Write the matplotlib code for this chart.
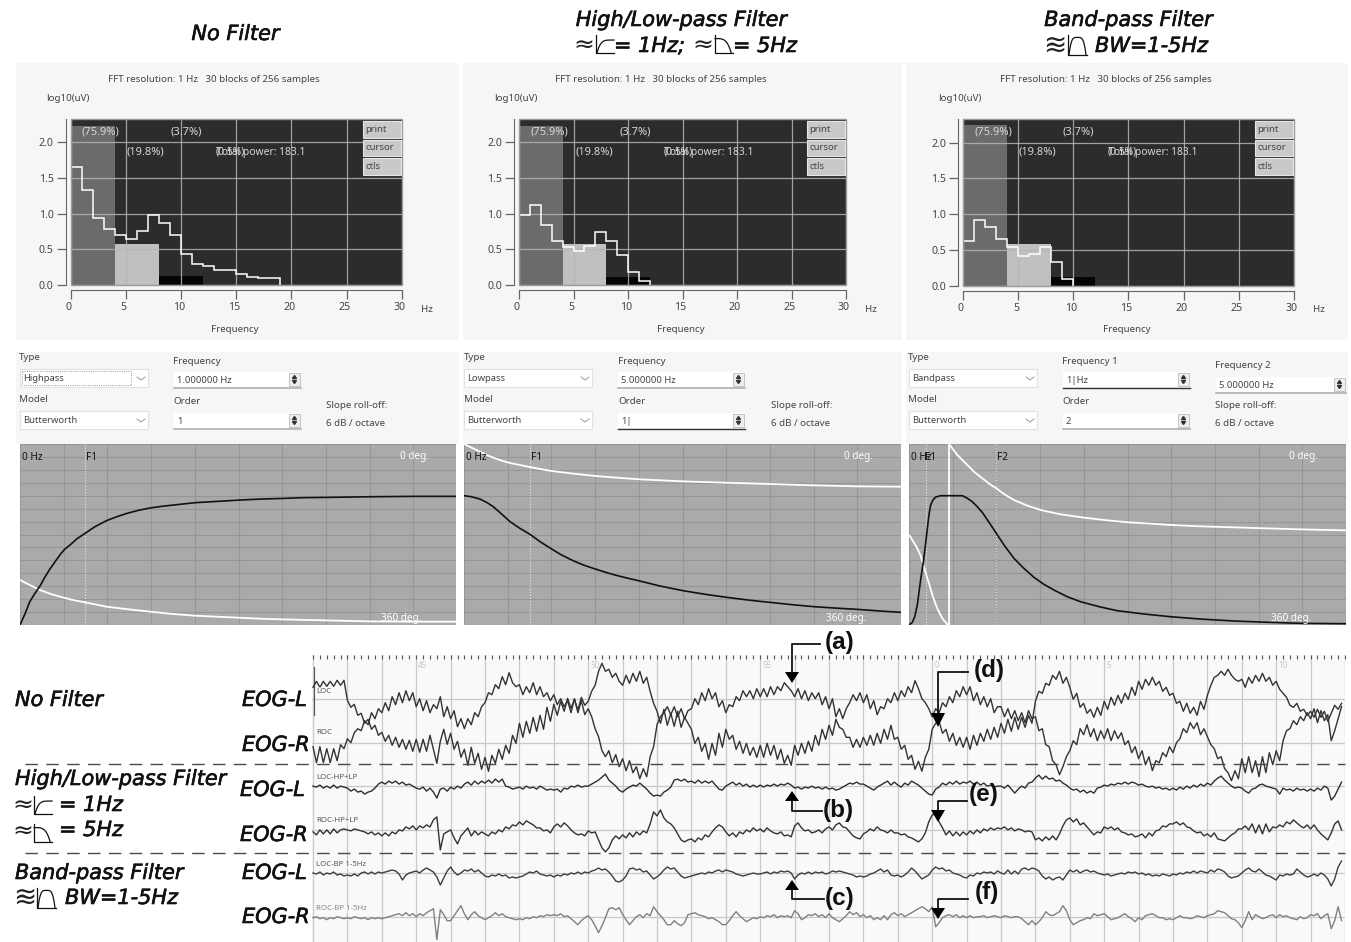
import numpy as np
import matplotlib
matplotlib.use("Agg")
import matplotlib.pyplot as plt
import matplotlib.patheffects as pe
from matplotlib.patches import Rectangle, Polygon
from matplotlib.ticker import MultipleLocator
from matplotlib.transforms import ScaledTranslation

W, H = 1351, 942
UI = "Noto Sans"
UIS = 7.0

# ---- spectra (log10 uV per 1 Hz bin) ----
spec_no = [1.65, 1.33, .94, .79, .70, .65, .76, .98, .87, .70, .43, .30, .27, .21, .21, .16, .11, .10, .10]
spec_hl = [.98, 1.12, .84, .62, .53, .48, .54, .74, .62, .42, .18, .06]
spec_bp = [.63, .92, .82, .66, .54, .41, .45, .54, .33, .10]
band_no = [2.22, .58, .12]
band_hl = [2.22, .57, .11]
band_bp = [2.25, .59, .12]
band_edges = [0, 4, 8, 12]
band_colors = ["#6b6b6b", "#c0c0c0", "#050505"]
y_ticks = [0.0, 0.5, 1.0, 1.5, 2.0]
x_ticks = [0, 5, 10, 15, 20, 25, 30]

# ---- filter responses ----
hp_f = [0, .08, .15, .23, .31, .38, .46, .54, .62, .69, .77, .87, 1.0, 1.15, 1.33, 1.49, 1.64, 1.82, 2.0, 2.18, 2.36, 2.69, 3.03, 3.36, 3.69, 4.03, 4.36, 4.7, 5.37, 6.05, 6.7]
hp_gain = [0, .09, .18, .245, .304, .368, .433, .49, .546, .588, .619, .665, .709, .76, .807, .838, .863, .887, .905, .918, .928, .946, .956, .966, .974, .979, .985, .987, .992, .995, .995]
hp_pf = [0, .15, .31, .46, .62, .79, 1.0, 1.18, 1.33, 1.67, 2.01, 2.36, 2.69, 3.03, 3.36, 3.69, 4.03, 4.7, 5.37, 6.05, 6.7]
hp_phase = [270.5, 280.5, 290.5, 297.8, 303.8, 309.7, 315, 319.6, 323.6, 328.9, 333.6, 338.2, 341.5, 343.5, 345.5, 347.5, 348.8, 350.8, 352.8, 353.4, 353.4]

lp_f = [0, .58, 1.22, 1.73, 2.23, 2.87, 3.5, 4.26, 5.0, 5.8, 6.67, 7.44, 8.32, 9.09, 10, 10.86, 11.6, 12.5, 13.4, 14.9, 16.7, 18.4, 20, 21.65, 23.3, 25, 26.6, 28.25, 29.95, 31.7, 33.25]
lp_gain = [1, .992, .974, .948, .915, .858, .80, .747, .703, .644, .588, .541, .497, .464, .433, .405, .384, .361, .34, .302, .265, .237, .214, .193, .175, .157, .142, .131, .121, .108, .098]
lp_pf = [0, .58, 1.22, 1.73, 2.23, 2.87, 3.5, 4.26, 5, 5.8, 6.67, 8.32, 10, 11.6, 13.4, 16.7, 20, 23.3, 26.6, 29.95, 33.25]
lp_phase = [0, 7.3, 15.3, 21.9, 27.2, 33.2, 37.8, 41.8, 45.7, 49.7, 53.7, 59, 63.6, 66.9, 70.3, 74.3, 77, 79.6, 82.2, 84.2, 84.9]

bp_f = [.04, .19, .33, .48, .67, .83, .96, 1.06, 1.15, 1.25, 1.38, 1.54, 1.83, 3.08, 3.37, 3.65, 3.94, 4.23, 4.62, 5.04, 5.48, 6.06, 6.63, 7.21, 7.79, 8.37, 9.13, 9.9, 10.96, 12, 13.56, 15.1, 16.83, 18.75, 20.67, 22.6, 25.2]
bp_gain = [.005, .02, .064, .155, .348, .49, .631, .747, .851, .928, .966, .99, 1, 1, .98, .954, .915, .871, .794, .709, .619, .515, .438, .369, .314, .27, .219, .18, .142, .111, .085, .064, .046, .031, .021, .013, .01]
bp_pf = [.04, .25, .48, .67, .83, 1.0, 1.15, 1.38, 1.63, 1.92, 2.21, 2.31, 2.31, 2.79, 3.37, 3.79, 4.23, 4.62, 5.04, 5.48, 6.06, 6.83, 7.6, 8.75, 10.1, 11.44, 12.66, 13.94, 15.13, 16.83, 18.75, 20.67, 22.6, 25.2]
bp_phase = [182.4, 194.3, 207.6, 222.1, 240.7, 260.6, 277.2, 303.7, 326.9, 346.8, 358.8, 360, 0, 21.9, 41.8, 56.4, 68.3, 78.9, 88.2, 99.5, 111.4, 122.7, 131.3, 139.9, 146.5, 151.8, 155.8, 158.4, 161.1, 163.8, 165.8, 167.8, 169.8, 171.8]

# ---- EOG traces: ten readings per second from t = 42 s to 72 s, amplitude (uV-like units) ----
t_start = 42
loc_raw = [
 12,18,12,18,13,18,13,19,14,19, -1,-8,-5,-16,-14,-24,-20,-30,-26,-36,
 -33,-42,-36,-46,-38,-48,-40,-50,-41,-52, -40,-53,-40,-52,-36,-50,-64,-42,-30,-45,
 -34,-50,-42,-58,-50,-66,-48,-64,-54,-70, -58,-72,-56,-64,-50,-60,-46,-54,-36,-44,
 -24,-38,-22,-34,-18,-32,-16,-30,-8,-22, -5,-16,-2,-12,1,-9,0,-11,2,-6,
 -2,8,14,28,36,28,30,22,26,18, 14,24,16,26,18,28,16,22,8,-4,
 -12,-24,-10,-26,-14,-27,-12,-28,-18,-24, -30,-44,-38,-52,-44,-60,-44,-56,-34,-48,
 -30,-40,-36,-50,-42,-54,-44,-56,-48,-58, -46,-58,-44,-56,-46,-60,-50,-64,-56,-66,
 -46,-56,-44,-54,-42,-52,-36,-46,-30,-40, -26,-36,-20,-28,-30,-38,-38,-48,-40,-48,
 -38,-46,-36,-46,-34,-44,-30,-40,-26,-40, -38,-50,-46,-60,-56,-70,-62,-72,-58,-50,
 -30,-24,-22,-34,-30,-42,-34,-46,-38,-48, -38,-50,-36,-46,-34,-42,-30,-40,-28,-38,
 -24,-34,-20,-32,-18,-30,-18,-28,-16,-24, -2,8,6,16,14,24,20,28,16,22,
 12,0,6,-8,-4,-14,-10,-18,-8,-16, -2,-10,2,-6,4,-4,6,0,12,4,
 18,10,20,14,22,14,18,8,12,4, 6,-4,-2,-12,-4,-14,-8,-16,-2,-10,
 4,14,22,24,28,24,30,24,20,18, 20,12,22,16,24,18,26,18,22,14,
 18,10,6,2,-6,-8,-4,-12,-10,-16, -12,-18,-10,-18,-12,-22,-14,-6,-10,-4]
roc_raw = [
 -4,-20,-4,-20,-6,-20,-6,-18,-2,-6, 4,0,10,14,12,22,18,30,24,34,
 30,40,32,46,38,50,40,52,42,50, 36,44,32,42,30,38,34,46,26,36,
 24,32,16,24,14,24,18,30,26,36, 40,50,48,58,54,66,58,70,60,56,
 58,48,56,50,60,48,56,46,50,42, 48,38,44,36,42,30,44,30,42,28,
 34,26,14,6,-8,-14,-8,-20,-12,-24, -16,-28,-18,-30,-24,-36,-26,-34,-14,-4,
 18,26,30,36,28,36,26,34,24,32, 34,44,38,50,42,54,44,50,36,42,
 30,38,36,46,42,52,46,52,44,54, 46,54,46,56,48,56,52,60,56,52,
 46,54,44,52,42,50,44,50,38,46, 34,44,26,34,24,34,40,48,42,50,
 40,48,34,42,28,36,34,44,40,50, 42,52,46,56,50,62,54,44,40,34,
 26,34,30,40,36,46,40,52,46,56, 48,56,42,50,38,46,36,44,30,36,
 36,26,34,24,32,22,30,20,32,24, 26,12,14,-2,-4,-18,-22,-32,-24,-14,
 -8,2,-2,14,8,18,6,14,2,12, 4,14,2,12,4,10,-2,2,-10,-4,
 -16,-8,-22,-14,-28,-18,-20,-10,-14,-4, -10,0,4,14,10,20,14,20,8,14,
 6,-2,-6,-16,-14,-26,-30,-38,-28,-36, -16,-30,-14,-30,-18,-34,-14,-30,-10,-22,
 -8,-18,2,12,14,22,18,26,22,30, 24,34,20,32,22,28,2,12,24,36]
loc_hl = [
 0,-1,1,-2,0,-2,1,-2,0,-1, -2,-5,-3,-6,-5,-8,-6,-5,-2,2,
 4,2,5,3,5,2,4,1,2,0, -2,-3,-1,-5,-2,-6,-12,-3,-2,-5,
 -1,-3,0,-2,2,4,1,5,2,5, 3,6,3,7,4,7,0,-1,-3,-2,
 -1,-3,0,-2,-1,-3,0,-2,-4,-3, -4,-3,-6,-2,-3,0,-1,1,-1,0,
 0,2,4,6,9,12,6,3,0,-4, -6,-3,-1,1,0,3,0,-3,-7,-10,
 -9,-10,-6,-4,-1,6,7,5,7,4, 5,3,6,3,5,3,5,1,-3,-4,
 0,2,4,1,3,0,2,-1,1,-1, 1,-1,1,0,2,0,2,1,3,1,
 -2,-1,-3,-1,-2,0,-2,-1,-3,-1, -3,-2,-4,-3,-1,1,3,2,4,2,
 2,0,-2,-4,-1,1,3,5,1,4, 1,-1,3,1,5,3,1,-2,-5,-8,
 -9,-3,-1,3,1,4,2,5,2,4, 3,5,2,4,1,3,0,1,-1,0,
 0,-2,1,-3,-7,-3,0,-2,3,4, 8,11,7,10,7,8,5,6,3,1,
 -2,-4,-3,-6,-4,-7,-5,-7,-2,-1, 1,0,2,1,3,2,4,2,4,3,
 1,2,0,-1,0,-2,-1,-3,-2,-4, -2,-4,-1,-3,0,-2,1,-1,2,0,
 3,1,5,8,10,6,3,0,-2,-1, -2,-5,-7,-3,-2,1,2,0,-1,-2,
 -3,-8,-2,-4,-3,-5,-2,-4,-3,-5, -3,-5,-2,-4,0,-2,-14,-10,-3,4]
roc_hl = [
 -2,-5,0,-4,0,-4,1,-3,0,1, 0,-1,1,0,-1,-2,-4,-2,-5,-3,
 -6,-3,-6,-2,-4,0,-1,3,1,4, 0,4,2,5,3,10,13,-20,-4,-2,
 0,-8,-14,-6,-2,2,-6,-1,-5,-2, -4,-6,-2,-4,0,-2,3,1,5,4,
 8,5,9,7,5,2,2,-1,0,-3, 3,6,3,7,4,0,-3,-5,-4,-6,
 -1,-3,-2,-10,-18,-22,-18,-10,-6,-9, -5,-8,-3,-7,-2,-5,-1,-3,6,18,
 14,20,12,8,6,2,-4,-10,-12,-10, -9,-12,-8,-10,-5,-7,-2,2,5,3,
 -2,-6,-3,-7,-2,-4,0,-2,2,-1, 1,-2,2,-1,-3,-4,-2,-6,-5,-7,
 4,7,2,-1,0,-3,-2,0,-3,1, 3,0,5,7,3,2,-2,-6,-8,-9,
 -4,-2,1,-1,3,0,-1,-3,0,-3, -3,-5,-4,-7,-8,-10,-12,-9,-3,8,
 15,16,8,2,-5,-1,-6,-2,-6,-2, -5,-1,-4,0,-3,1,-1,2,0,2,
 1,3,0,2,-1,1,0,-2,-1,-2, -10,-8,-11,-7,-10,-6,-10,-4,4,10,
 12,8,11,5,7,3,-1,-5,-2,-3, 3,1,3,0,2,-2,-3,-5,-4,-7,
 -6,-4,-8,-3,-6,-1,0,4,3,6, 6,8,5,7,3,2,-1,-3,-2,-6,
 -4,-7,-3,-9,-10,-11,-8,-5,-3,1, 1,4,0,6,-3,5,-4,6,-2,3,
 2,5,3,8,6,10,7,4,2,5, 1,5,0,-4,-7,-10,-3,6,9,0]
loc_bp = [
 0,-1,1,-2,0,-1,1,-2,-1,-3, -2,-3,-1,-3,0,1,-1,1,-1,1,
 0,1,2,3,2,-1,-7,-2,0,1, 2,0,3,5,3,1,-4,-12,-5,2,
 6,1,-2,0,3,2,4,1,3,0, -3,-4,-2,-3,-1,-3,-2,-5,-4,-5,
 -4,-3,-1,1,0,2,-1,-2,-3,-2, -4,-2,-3,-1,-2,0,-1,1,-1,1,
 0,2,3,5,3,4,1,-3,-8,-9, -7,-3,4,5,3,4,1,2,-2,-6,
 -4,-1,3,6,4,5,1,-3,-5,-4, -3,-2,-1,0,-1,1,0,2,3,1,
 3,2,1,-1,-2,-3,-2,-1,0,-1, -1,0,1,-1,1,0,2,1,2,0,
 -6,-2,0,-1,1,-1,1,0,1,-1, 0,2,1,2,1,0,-1,-2,-4,-3,
 -4,-3,-1,0,2,4,1,3,-2,-3, -2,-4,-2,1,5,2,-2,-6,-4,-2,
 3,6,4,5,2,3,0,-1,-2,-4, -5,-2,-3,0,-1,1,0,1,-1,2,
 0,-1,3,-1,2,-1,4,5,3,5, 4,2,-3,-6,-4,-7,-5,-4,-7,-2,
 3,1,3,0,2,3,1,2,0,-1, -2,-1,-3,-2,-1,0,-1,1,0,1,
 -1,0,-2,-1,-3,-2,-3,-1,-2,-3, -1,-2,0,-1,1,0,2,0,2,1,
 0,3,1,4,3,1,-3,-5,-4,-3, 0,3,5,2,1,4,1,-2,-3,-5,
 -7,-2,-3,-1,-2,-1,4,1,-2,-4, -3,-1,-3,0,-2,-6,-13,-6,6,12]
roc_bp = [
 -1,0,-2,-1,-3,-1,-2,0,-1,-2, -1,-2,0,-1,-2,-1,-3,-1,-2,-1,
 -2,-1,0,1,2,3,1,4,1,3, 0,3,1,4,6,8,-23,7,2,-4,
 -4,1,6,11,3,-3,2,5,1,-1, -3,-1,1,4,1,3,0,-1,-2,-3,
 -2,-3,-1,-2,0,-1,1,0,2,1, 2,1,3,0,1,-2,-5,-8,-4,-1,
 1,-3,-9,-16,-9,-1,8,9,7,9, 2,-3,-8,-4,0,2,-1,3,1,10,
 5,1,-3,-8,-8,-4,-7,-9,-6,2, 3,4,2,1,0,-2,-1,-3,-5,-8,
 -8,-4,1,5,1,-2,-5,-3,-1,-2, 0,-1,1,0,2,-1,1,0,1,-1,
 6,3,-3,-1,2,1,3,0,2,-1, 3,-1,-3,-5,-2,1,5,2,4,0,
 2,-1,1,-3,-1,-3,1,-3,2,4, 1,3,0,2,4,6,8,10,8,5,
 10,-10,-6,-1,1,2,0,2,-1,1, -1,1,-1,0,0,1,-1,0,1,0,
 -1,1,0,-1,0,0,-2,-5,-8,-4, -8,-5,-1,5,2,1,3,5,11,6,
 -3,-8,-6,-4,-3,-1,-2,3,1,2, 3,0,-3,-2,-1,1,3,0,-2,-5,
 -1,-3,1,2,3,1,-1,-1,-3,-2, -3,-1,1,-1,-1,-2,-1,1,0,-1,
 1,2,3,6,5,4,1,-2,-3,-6, -11,-4,5,-3,2,0,-2,-1,1,2,
 -1,2,0,1,-1,-2,-3,0,-2,-1, 2,1,3,-2,1,3,-12,-4,10,-4]
eog_clock = {45: "45", 50: "50", 55: "55", 60: "0", 65: "5", 70: "10"}
eog_names = ["LOC", "ROC", "LOC-HP+LP", "ROC-HP+LP", "LOC-BP 1-5Hz", "ROC-BP 1-5Hz"]

fig = plt.figure(figsize=(W / 100, H / 100), dpi=100, facecolor="white")


def axpx(x0, y0, x1, y1, **kw):
    return fig.add_axes([x0 / W, 1 - y1 / H, (x1 - x0) / W, (y1 - y0) / H], **kw)


bg = axpx(0, 0, W, H, zorder=0)
fg = axpx(0, 0, W, H, zorder=10)
for a in (bg, fg):
    a.set_xlim(0, W)
    a.set_ylim(H, 0)
    a.axis("off")
    a.patch.set_alpha(0)

# panel backgrounds
for x0, x1 in [(16, 459), (462.5, 902), (906, 1348)]:
    bg.add_patch(Rectangle((x0, 63), x1 - x0, 277, fc="#f6f6f6", ec="none"))
    bg.add_patch(Rectangle((x0, 352), x1 - x0, 92, fc="#f6f6f6", ec="none"))


def ut(x, y, s, color="#444444", size=UIS, ha="left", **kw):
    fg.text(x, y, s, color=color, fontsize=size, ha=ha, va="center", family=UI, **kw)


# ---- spectrum panels ----
spec_panels = [
    (70.5, 402, 285.0, spec_no, band_no, 108, 46, 235, 421, 363),
    (519, 846, 285.0, spec_hl, band_hl, 554.7, 494.3, 681, 864.7, 807),
    (962.7, 1294, 285.7, spec_bp, band_bp, 1000, 937.7, 1126.7, 1312.7, 1255),
]
for x0, x1, y0, vals, band, fx, lx, cx, hzx, bx in spec_panels:
    ax = axpx(x0, 119, x1, y0, zorder=2)
    ax.set_facecolor("#2c2c2c")
    for s in ("top", "right"):
        ax.spines[s].set_visible(False)
    ax.spines["left"].set_position(("outward", 3.6))
    ax.spines["bottom"].set_position(("outward", 3.6))
    ax.spines["left"].set_color("#666666")
    ax.spines["bottom"].set_color("#666666")
    ax.set_xlim(0, 30)
    ax.set_ylim(0, (y0 - 119) / 71.5)
    for i, h in enumerate(band):
        ax.bar(band_edges[i], h, width=band_edges[i + 1] - band_edges[i], align="edge",
               color=band_colors[i], zorder=1)
    ax.set_xticks(x_ticks)
    ax.set_yticks(y_ticks)
    ax.set_xticklabels([str(v) for v in x_ticks], fontsize=7.6, color="#444444", family=UI)
    ax.set_yticklabels([f"{v:.1f}" for v in y_ticks], fontsize=7.6, color="#444444", family=UI)
    ax.tick_params(length=6.5, width=0.9, color="#666666", pad=2)
    shift = ScaledTranslation(-2 / 100, 0, fig.dpi_scale_trans)
    for lab in ax.get_xticklabels():
        lab.set_transform(lab.get_transform() + shift)
    ax.grid(True, color="#b5b5b5", lw=0.9, alpha=0.85, zorder=2)
    ax.set_axisbelow(False)
    ax.stairs(vals, np.arange(len(vals) + 1), color="white", lw=1.1, baseline=0, zorder=3)
    ax.add_patch(Rectangle((0, 0), 1, 1, transform=ax.transAxes, fill=False, ec="#9a9a9a", lw=1, clip_on=False, zorder=4))

    ut(fx, 80, "FFT resolution: 1 Hz   30 blocks of 256 samples")
    ut(lx, 98.5, "log10(uV)")
    ut(cx, 330, "Frequency", ha="center")
    ut(hzx, 310, "Hz")
    for dx, y, s, sz in [(11.5, 132.5, "(75.9%)", 8), (56, 152, "(19.8%)", 8), (100, 132.5, "(3.7%)", 8),
                         (145, 152, "(0.5%)", 7.4), (145, 152, "Total power: 183.1", 7.4)]:
        ut(x0 + dx, y, s, color="#d6d6d6", size=sz)
    for (ya, yb), s in zip([(121, 138), (140, 156), (158, 175)], ["print", "cursor", "ctls"]):
        fg.add_patch(Rectangle((bx, ya), 38, yb - ya, fc="#c9c9c9", ec="#e6e6e6", lw=0.8))
        ut(bx + 2, (ya + yb) / 2, s, color="#444444", size=6.9)


# ---- filter control widgets ----
def combo(x0, y0, s, dotted=False):
    fg.add_patch(Rectangle((x0, y0), 128, 18, fc="white", ec="#e2e2e2", lw=0.8))
    ut(x0 + 3, y0 + 9.5, s, size=6.8)
    fg.plot([x0 + 117, x0 + 121, x0 + 125], [y0 + 8, y0 + 11, y0 + 8], color="#999999", lw=0.7)
    if dotted:
        fg.add_patch(Rectangle((x0 + 2, y0 + 2), 109, 14, fill=False, ec="#777777", lw=0.6, ls=":"))


def entry(x0, y0, s, w=127, active=False):
    fg.add_patch(Rectangle((x0, y0), w, 15, fc="white", ec="none"))
    fg.plot([x0, x0 + w], [y0 + 15.5] * 2, color="#333333" if active else "#b0b0b0", lw=1 if active else 1.2)
    ut(x0 + 3, y0 + 8.5, s, size=6.8)
    sx = x0 + w - 12
    fg.add_patch(Rectangle((sx, y0 + 1), 11, 13, fc="#eeeeee", ec="#bbbbbb", lw=0.6))
    fg.fill([sx + 3.5, sx + 7.5, sx + 5.5], [y0 + 6.5, y0 + 6.5, y0 + 3.5], color="#333333")
    fg.fill([sx + 3.5, sx + 7.5, sx + 5.5], [y0 + 8.5, y0 + 8.5, y0 + 11.5], color="#333333")


combo(20, 369, "Highpass", dotted=True)
combo(464, 369, "Lowpass")
combo(909, 369, "Bandpass")
for x in (20, 464, 909):
    combo(x, 411, "Butterworth")
for x, y, s in [(19, 357, "Type"), (19, 399, "Model"), (173, 361, "Frequency"), (173, 401, "Order"),
                (326, 406, "Slope roll-off:"), (326, 424, "6 dB / octave"),
                (464, 357, "Type"), (464, 399, "Model"), (618, 361, "Frequency"), (618, 401, "Order"),
                (771, 406, "Slope roll-off:"), (771, 424, "6 dB / octave"),
                (908, 357, "Type"), (908, 399, "Model"), (1062, 361, "Frequency 1"), (1062, 401, "Order"),
                (1215, 366, "Frequency 2"), (1215, 406, "Slope roll-off:"), (1215, 424, "6 dB / octave")]:
    ut(x, y, s)
entry(174, 372, "1.000000 Hz")
entry(174, 413, "1")
entry(618, 372, "5.000000 Hz")
entry(618, 413, "1|", active=True)
entry(1063, 372, "1|Hz", active=True)
entry(1063, 413, "2")
entry(1216, 377, "5.000000 Hz", w=130)

# ---- filter response panels ----
filt_panels = [
    (20, 456, 6.7, hp_f, hp_gain, hp_pf, hp_phase, [("F1", 1.0)], 400, 381),
    (464, 900.7, 33.25, lp_f, lp_gain, lp_pf, lp_phase, [("F1", 5.0)], 844, 826),
    (909, 1345.7, 25.2, bp_f, bp_gain, bp_pf, bp_phase, [("F1", 1.0), ("F2", 5.0)], 1289, 1271),
]
for x0, x1, fmax, f, g, pf, ph, marks, degx, d360x in filt_panels:
    ax = axpx(x0, 444, x1, 625, zorder=2)
    ax.set_facecolor("#aaaaaa")
    ax.set_xlim(0, fmax)
    ax.set_ylim(0, 1.40)
    ax.xaxis.set_major_locator(MultipleLocator(fmax * 43.7 / (x1 - x0)))
    ax.yaxis.set_major_locator(MultipleLocator(0.1))
    ax.grid(True, color="#969696", lw=0.75)
    ax.set_axisbelow(True)
    ax.tick_params(length=0, labelleft=False, labelbottom=False)
    for s in ax.spines.values():
        s.set_visible(False)
    for name, fr in marks:
        ax.axvline(fr, color="#e8e8e8", lw=0.8, ls=":", zorder=2)
        px = x0 + fr / fmax * (x1 - x0)
        fg.text(px + (1 if len(marks) == 1 else -1 if name == "F1" else 1), 457, name, color="#111111", fontsize=7.2, family=UI, va="center")
    ph_ax = ax.twinx()
    ph_ax.set_ylim(360, 0)
    ph_ax.axis("off")
    ph_ax.plot(pf, ph, color="white", lw=1.3)
    ph_ax.plot(f, np.array(g) * (-360 / 1.40) + 360, color="#111111", lw=1.2, zorder=4)
    fg.text(x0 + 2, 457, "0 Hz", color="#111111", fontsize=7.2, family=UI, va="center")
    fg.text(degx, 457, "0 deg.", color="white", fontsize=7.2, family=UI, va="center")
    fg.text(d360x, 618.5, "360 deg.", color="white", fontsize=7.2, family=UI, va="center")

# ---- EOG strip ----
eog = axpx(312, 655, 1345, 942, zorder=2)
eog.set_facecolor("#f9f9f9")
t_left, t_right = 41.97, 72.0
eog.set_xlim(t_left, t_right)
top_units, bot_units = 699.3 - 655, 699.3 - 942
eog.set_ylim(bot_units, top_units)
offsets = [0, -43.4, -86.8, -130.6, -173.7, -217.4]
eog.xaxis.set_major_locator(MultipleLocator(1))
eog.xaxis.set_minor_locator(MultipleLocator(0.2))
eog.set_yticks(offsets)
eog.grid(True, which="major", color="#c9c9c9", lw=0.9)
eog.set_axisbelow(True)
eog.tick_params(which="both", axis="x", top=True, bottom=False, labelbottom=False, direction="in", length=3.2, width=0.8, color="#555555")
eog.tick_params(axis="y", length=0, labelleft=False)
for s in eog.spines.values():
    s.set_visible(False)
traces = [loc_raw, roc_raw, loc_hl, roc_hl, loc_bp, roc_bp]
colors = ["#333333", "#333333", "#2e2e2e", "#333333", "#3e3e3e", "#808080"]
for tr, off, c in zip(traces, offsets, colors):
    t = t_start + np.arange(len(tr)) / 10
    eog.plot(t, np.array(tr) + off, color=c, lw=1.0, solid_joinstyle="round", zorder=3)
for sec, lab in eog_clock.items():
    eog.text(sec + 0.06, top_units - 11, lab, color="#c6c6c6", fontsize=5.8, family=UI, va="center")
eog.plot([42.02, 42.02], [-16, 32], color="#555555", lw=0.8)
for off, name, dy, c in zip(offsets, eog_names, [8, 10, 9, 9, 8, 8], ["#555555"] * 5 + ["#888888"]):
    eog.text(42.1, off + dy, name, fontsize=5.6, color=c, family=UI, va="center",
             bbox=dict(fc="#f9f9f9", ec="none", alpha=0.45, pad=0.2), zorder=4)

# dashed separators
fg.plot([25, 1345], [764, 764], color="#4a4a4a", lw=1.0, dashes=(9, 6))
fg.plot([25, 1345], [852.5, 852.5], color="#4a4a4a", lw=1.0, dashes=(9, 6))

# ---- headings ----
HEAVY = [pe.withStroke(linewidth=0.45, foreground="#111111")]


def it(x, y, s, size=15, ha="left"):
    fg.text(x, y, s, fontsize=size, style="italic", family="DejaVu Sans", ha=ha, va="center",
            color="#111111", path_effects=HEAVY)


def wavy(x, y, s, size):
    fg.text(x, y, s, fontsize=size, family="DejaVu Sans", va="center", color="#222222")


def hp_glyph(x, y, w=18, h=18, lw=0.9):
    u = np.linspace(0, 1, 30)
    fg.plot([x, x, x + w], [y, y + h, y + h], color="#111111", lw=lw)
    fg.plot(x + 1 + (w - 1) * u, y + h - (h * .72) * (1 - (1 - u) ** 5), color="#111111", lw=lw)


def lp_glyph(x, y, w=18, h=18, lw=0.9):
    u = np.linspace(0, 1, 30)
    fg.plot([x, x, x + w], [y, y + h, y + h], color="#111111", lw=lw)
    fg.plot(x + (w * .9) * u, y + h - (h * .8) * (1 - u ** 4), color="#111111", lw=lw)


def bp_glyph(x, y, w=19, h=20, lw=0.9):
    u = np.linspace(0, 1, 40)
    fg.plot([x, x, x + w], [y, y + h, y + h], color="#111111", lw=lw)
    fg.plot(x + 1 + (w - 2) * u, y + h - h * .88 * (1 - (2 * u - 1) ** 4), color="#111111", lw=lw)


it(235.5, 34, "No Filter", ha="center")
it(681.5, 20, "High/Low-pass Filter", ha="center")
wavy(573, 46, "≈", 18)
hp_glyph(596, 35)
it(614, 46, "= 1Hz;")
wavy(692, 46, "≈", 18)
lp_glyph(715, 35)
it(733, 46, "= 5Hz")
it(1128.5, 20, "Band-pass Filter", ha="center")
wavy(1043, 46, "≋", 20)
bp_glyph(1068, 35)
it(1095, 46, "BW=1-5Hz")

it(15, 700, "No Filter")
it(15, 779, "High/Low-pass Filter")
wavy(12, 806, "≈", 18)
hp_glyph(34, 796)
it(59, 805, "= 1Hz")
wavy(12, 832, "≈", 18)
lp_glyph(34, 824)
it(59, 830, "= 5Hz")
it(15, 873, "Band-pass Filter")
wavy(13, 898, "≋", 20)
bp_glyph(37, 888)
it(65, 898, "BW=1-5Hz")
for y, x, s in [(700, 242, "EOG-L"), (745, 242, "EOG-R"), (790, 240, "EOG-L"), (835, 240, "EOG-R"),
                (873, 242, "EOG-L"), (917, 242, "EOG-R")]:
    it(x, y, s)


# ---- pointers ----
def pointer(xv, y_h, x_h, tip, base, label, lx, ly):
    fg.plot([x_h, xv, xv], [y_h, y_h, base], color="#111111", lw=1.3)
    fg.add_patch(Polygon([(xv - 7, base), (xv + 7, base), (xv, tip)], fc="black", ec="none"))
    fg.text(lx, ly, label, fontsize=17.5, fontweight="bold", family="Liberation Sans", va="center", color="#111111")


pointer(792, 644, 820, 683, 672, "(a)", 825, 643)
pointer(792, 811, 822, 791, 801, "(b)", 823, 810)
pointer(792, 899, 824, 880, 890, "(c)", 825, 898)
pointer(938, 672, 968, 727, 713, "(d)", 974, 671)
pointer(938, 801, 967, 822, 810, "(e)", 969, 794)
pointer(938, 899, 968, 919, 908, "(f)", 975, 893)

fig.savefig("out.png", dpi=100, facecolor="white")
